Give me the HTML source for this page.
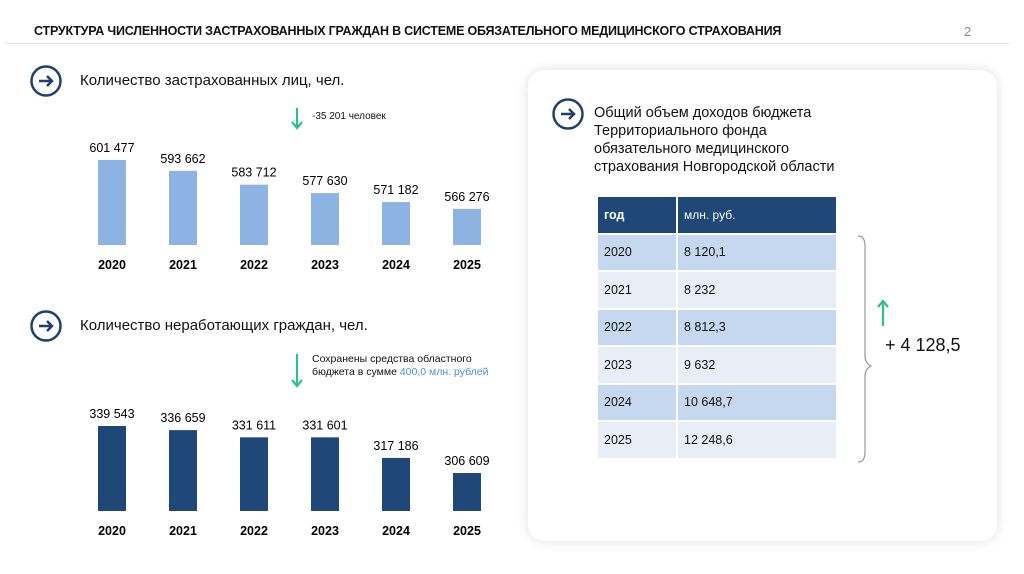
<!DOCTYPE html>
<html><head><meta charset="utf-8">
<style>
body{margin:0;width:1024px;height:574px;background:#fff;font-family:"Liberation Sans",sans-serif;overflow:hidden;position:relative;color:#111}
.abs{position:absolute}
.hdr{left:34px;top:24px;font-size:12.5px;font-weight:bold;letter-spacing:-0.2px}
.card{left:528px;top:70px;width:469px;height:471px;border-radius:16px;background:#fff;box-shadow:0 0 12px rgba(0,0,0,0.12)}
.h2{font-size:15px}
table{border-collapse:separate;border-spacing:2px;font-size:12.5px}
td{height:35.5px;padding:0 0 0 6px}
</style></head><body>
<div class="abs hdr">СТРУКТУРА ЧИСЛЕННОСТИ ЗАСТРАХОВАННЫХ ГРАЖДАН В СИСТЕМЕ ОБЯЗАТЕЛЬНОГО МЕДИЦИНСКОГО СТРАХОВАНИЯ</div>
<div class="abs" style="left:964px;top:24px;font-size:13px;color:#888">2</div>
<div class="abs" style="left:5px;top:43px;width:1005px;height:1px;background:#e6e6e6"></div>

<svg class="abs" style="left:0;top:0" width="1024" height="574">
<g><circle cx="46" cy="81" r="14.5" fill="none" stroke="#1f3f6e" stroke-width="2.5"/><path d="M39 81h13M47 76l5 5-5 5" fill="none" stroke="#1f3f6e" stroke-width="2.5"/></g>
<g><circle cx="46" cy="326" r="14.5" fill="none" stroke="#1f3f6e" stroke-width="2.5"/><path d="M39 326h13M47 321l5 5-5 5" fill="none" stroke="#1f3f6e" stroke-width="2.5"/></g>
<g id="c1"></g><g id="c2"></g>
<path d="M297 108v20M292 122l5 6 5-6" fill="none" stroke="#2fc08a" stroke-width="2.2"/>
<path d="M297 354v32M292 380l5 6 5-6" fill="none" stroke="#2fc08a" stroke-width="2.2"/>
</svg>
<div class="abs h2" style="left:80px;top:72px">Количество застрахованных лиц, чел.</div>
<div class="abs" style="left:312px;top:111px;font-size:10px">-35 201 человек</div>
<div class="abs h2" style="left:80px;top:317px">Количество неработающих граждан, чел.</div>
<div class="abs" style="left:312px;top:353px;font-size:10.5px;line-height:13px">Сохранены средства областного<br>бюджета в сумме <span style="color:#4a90d9">400,0 млн. рублей</span></div>

<div class="abs card">
<svg class="abs" style="left:24px;top:28px" width="34" height="34"><circle cx="16" cy="16" r="14.5" fill="none" stroke="#1f3f6e" stroke-width="2.5"/><path d="M9 16h13M17 11l5 5-5 5" fill="none" stroke="#1f3f6e" stroke-width="2.5"/></svg>
<div class="abs" style="left:66px;top:34px;font-size:14.5px;line-height:18px;white-space:nowrap">Общий объем доходов бюджета<br>Территориального фонда<br>обязательного медицинского<br>страхования Новгородской области</div>
<table class="abs" style="left:68px;top:125px;width:242px">
<tr style="background:#1f4878;color:#fff"><td style="width:72px;font-weight:bold">год</td><td style="font-size:12px">млн. руб.</td></tr>
<tr style="background:#c6d8f0"><td>2020</td><td>8 120,1</td></tr>
<tr style="background:#e8eef6"><td>2021</td><td>8 232</td></tr>
<tr style="background:#c6d8f0"><td>2022</td><td>8 812,3</td></tr>
<tr style="background:#e8eef6"><td>2023</td><td>9 632</td></tr>
<tr style="background:#c6d8f0"><td>2024</td><td>10 648,7</td></tr>
<tr style="background:#e8eef6"><td>2025</td><td>12 248,6</td></tr>
</table>
<svg class="abs" style="left:320px;top:160px" width="40" height="240"><path d="M10 6q7 0 7 10v110q0 7 6 10q-6 3-6 10v76q0 10-7 10" fill="none" stroke="#999" stroke-width="1.2"/></svg>
<svg class="abs" style="left:348px;top:228px" width="14" height="30"><path d="M7 28V3M2 9l5-6 5 6" fill="none" stroke="#2fc08a" stroke-width="2.2"/></svg>
<div class="abs" style="left:357px;top:265px;font-size:18px">+ 4 128,5</div>
</div>

<script>
const years=["2020","2021","2022","2023","2024","2025"];
const insured=[601477,593662,583712,577630,571182,566276];
const insuredLabels=["601 477","593 662","583 712","577 630","571 182","566 276"];
const unemployed=[339543,336659,331611,331601,317186,306609];
const unemployedLabels=["339 543","336 659","331 611","331 601","317 186","306 609"];
const NS="http://www.w3.org/2000/svg";
function draw(g,vals,labels,base,scale,baseY,color,nm){
  const x=i=>112+i*71;
  const y=v=>baseY-(v-base)*scale;
  vals.forEach((v,i)=>{
    const r=document.createElementNS(NS,'rect');
    
    
    r.setAttribute('x',x(i)-14);r.setAttribute('width',28);
    r.setAttribute('y',y(v));r.setAttribute('height',baseY-y(v));r.setAttribute('fill',color);
    g.appendChild(r);
    const t=document.createElementNS(NS,'text');
    
    
    t.setAttribute('x',x(i));t.setAttribute('y',y(v)-8);t.setAttribute('text-anchor','middle');t.setAttribute('font-size','12.5');
    t.textContent=labels[i];g.appendChild(t);
    const a=document.createElementNS(NS,'text');
    
    
    a.setAttribute('x',x(i));a.setAttribute('y',baseY+24);a.setAttribute('text-anchor','middle');a.setAttribute('font-size','12.5');a.setAttribute('font-weight','bold');
    a.textContent=years[i];g.appendChild(a);
  });
}
draw(document.getElementById('c1'),insured,insuredLabels,540300,0.00139,245,'#8db3e2','insured');
draw(document.getElementById('c2'),unemployed,unemployedLabels,279980,0.001427,511,'#1f4878','unemployed');
</script>
</body></html>
